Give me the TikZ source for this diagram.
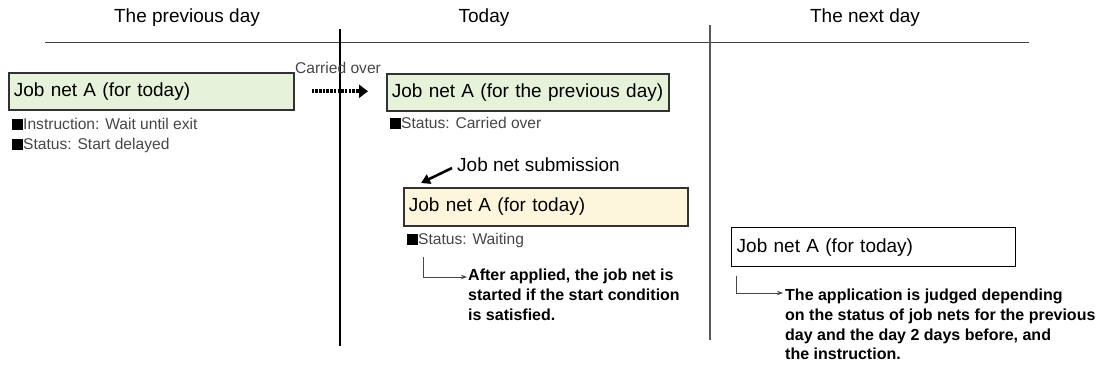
\documentclass[tikz,border=0pt]{standalone}
\usepackage{fontspec}
\setmainfont{Liberation Sans}
\usetikzlibrary{arrows.meta,calc}
\definecolor{boxgreen}{RGB}{230,242,218}
\definecolor{boxyellow}{RGB}{253,245,220}
\definecolor{boxline}{RGB}{50,50,50}
\definecolor{smallgray}{RGB}{70,70,70}
\newcommand{\bsq}{{\color{black}\rule[-0.5pt]{11pt}{11pt}}}
\begin{document}
\begin{tikzpicture}[x=1pt,y=-1pt,
  bigtext/.style={font=\fontsize{19}{22}\selectfont, inner sep=0pt},
  smalltext/.style={font=\fontsize{15.6}{18}\selectfont, text=smallgray, inner sep=0pt, anchor=west},
  exptext/.style={font=\fontsize{16}{20}\selectfont\bfseries, inner sep=0pt, anchor=north west, align=left},
  jobbox/.style={draw=boxline, line width=1.6pt, anchor=north west, inner xsep=5pt, inner ysep=0pt,
    font=\fontsize{19}{22}\selectfont, align=left},
  elbow/.style={draw=smallgray, line width=0.9pt, -{Stealth[length=6pt,width=4.5pt]}},
]
\useasboundingbox (0,0) rectangle (1101,369);
% headers
\node[bigtext] (h1) at (187,18) {The previous day};
\node[bigtext] (h2) at (484,18) {Today};
\node[bigtext] (h3) at (865,18) {The next day};
% axis lines
\draw[draw=black!75, line width=1pt] (45,43) -- (1029,43);
\draw[black, line width=1.2pt] (340,29) -- (340,346);
\draw[draw=black!65, line width=2.4pt] (710,25) -- (710,340);
% previous day
\node[jobbox, fill=boxgreen, minimum height=37pt, text width=275pt] (b1) at (8,72) {Job net A (for today)};
\node[smalltext] (s1a) at (12,124) {\bsq Instruction: Wait until exit};
\node[smalltext] (s1b) at (12,145) {\bsq Status: Start delayed};
% carried over
\node[smalltext, anchor=center] (co) at (338,68) {Carried over};
\node[jobbox, fill=boxgreen, minimum height=37pt, text width=272pt] (b2) at (386,73) {Job net A (for the previous day)};
\draw[line width=4pt, dash pattern=on 2.5pt off 1.2pt, -{Triangle[length=9pt,width=13pt]}, shorten <=17pt, shorten >=18pt]
  (b1.east) -- (b1.east -| b2.west);
\node[smalltext] (s2) at (390,123) {\bsq Status: Carried over};
% submission
\node[bigtext, anchor=west] (sub) at (457,165) {Job net submission};
\node[jobbox, fill=boxyellow, minimum height=38pt, text width=274pt] (b3) at (403,187) {Job net A (for today)};
\draw[line width=2.6pt, -{Triangle[length=9pt,width=10pt]}] ([xshift=-5pt,yshift=-3pt]sub.west) -- ([xshift=18pt,yshift=4pt]b3.north west);
\node[smalltext] (s3) at (407,240) {\bsq Status: Waiting};
\node[exptext] (e1) at (468,269) {After applied, the job net is\\started if the start condition\\is satisfied.};
\coordinate (c1) at (423,257);
\draw[elbow] (c1) |- ([xshift=-1pt,yshift=-8pt]e1.north west);
% next day
\node[jobbox, fill=white, draw=black, line width=1.4pt, minimum height=39pt, text width=274pt] (b4) at (731,227) {Job net A (for today)};
\node[exptext, font=\fontsize{16}{19.7}\selectfont\bfseries] (e2) at (785,289) {The application is judged depending\\on the status of job nets for the previous\\day and the day 2 days before, and\\the instruction.};
\coordinate (c2) at (736,276);
\draw[elbow] (c2) |- ([xshift=-2pt,yshift=-4pt]e2.north west);
\end{tikzpicture}
\end{document}
